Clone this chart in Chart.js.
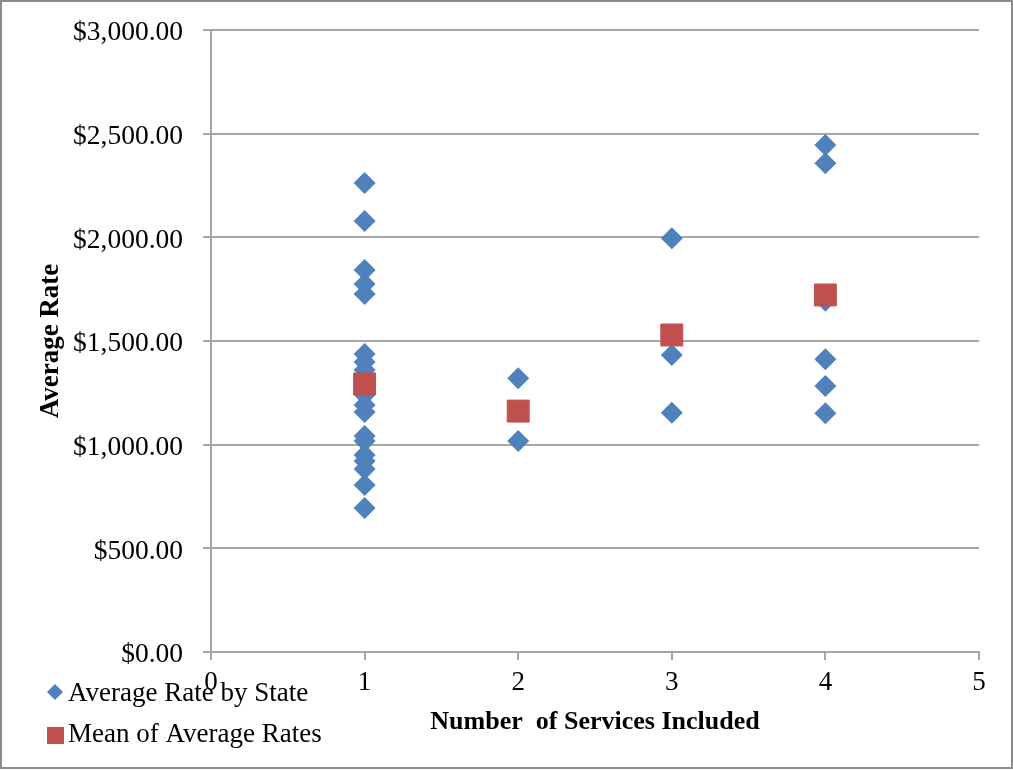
<!DOCTYPE html>
<html>
<head>
<meta charset="utf-8">
<title>Average Rate by Number of Services</title>
<script src="https://cdn.jsdelivr.net/npm/chart.js@4"></script>
<style>
  html, body { margin: 0; padding: 0; background: #fff; }
  #wrap { width: 1013px; height: 770px; position: relative; }
</style>
</head>
<body>
<div id="wrap"><canvas id="rateChart"></canvas></div>
<script>
// rates per state, grouped by how many services the plan includes
const oneServiceRates = [2262, 2079, 1842, 1775, 1727, 1437, 1399, 1360, 1240, 1191, 1158, 1042, 1018, 950, 921, 883, 805, 695];
const twoServiceRates = [1320, 1018];
const threeServiceRates = [1995, 1432, 1154];
const fourServiceRates = [2445, 2357, 1694, 1412, 1283, 1151];

// mean of the state rates for 1..4 services
const meanServices = [1, 2, 3, 4];
const meanRates = [1293, 1162, 1529, 1722];

const xTicks = [0, 1, 2, 3, 4, 5];
const yTicks = [0, 500, 1000, 1500, 2000, 2500, 3000];

const seriesNames = ['Average Rate by State', 'Mean of Average Rates'];

const BLUE = '#4f81bd';
const RED = '#c0504d';
const GRID = '#a6a6a6';
const FONT = "'Liberation Serif', 'Times New Roman', serif";

function toPoints(services, rates) {
    return rates.map(r => ({ x: services, y: r }));
}

const statePoints = [].concat(
    toPoints(1, oneServiceRates),
    toPoints(2, twoServiceRates),
    toPoints(3, threeServiceRates),
    toPoints(4, fourServiceRates)
);
const meanPoints = meanServices.map((s, i) => ({ x: s, y: meanRates[i] }));

function money(v) {
    return '$' + v.toLocaleString('en-US', { minimumFractionDigits: 2, maximumFractionDigits: 2 });
}

// white background and grey frame round the whole chart
const framePlugin = {
    id: 'frame',
    beforeDraw(chart) {
        const ctx = chart.ctx;
        ctx.save();
        ctx.fillStyle = '#fff';
        ctx.fillRect(0, 0, chart.width, chart.height);
        ctx.strokeStyle = '#8c8c8c';
        ctx.lineWidth = 2;
        ctx.strokeRect(1, 1, chart.width - 2, chart.height - 3);
        ctx.restore();
    }
};

// legend sits in the bottom-left corner, over the axis labels
const cornerLegend = {
    id: 'cornerLegend',
    afterDraw(chart) {
        const ctx = chart.ctx;
        ctx.save();
        ctx.font = '27px ' + FONT;
        ctx.textBaseline = 'alphabetic';
        ctx.textAlign = 'left';

        // diamond
        ctx.fillStyle = BLUE;
        ctx.beginPath();
        ctx.moveTo(55, 684);
        ctx.lineTo(63, 692);
        ctx.lineTo(55, 700);
        ctx.lineTo(47, 692);
        ctx.closePath();
        ctx.fill();
        ctx.fillStyle = '#000';
        ctx.fillText(seriesNames[0], 68, 701);

        // square
        ctx.fillStyle = RED;
        ctx.fillRect(47, 727, 17, 17);
        ctx.fillStyle = '#000';
        ctx.fillText(seriesNames[1], 68, 742);
        ctx.restore();
    }
};

new Chart(document.getElementById('rateChart'), {
    type: 'scatter',
    data: {
        datasets: [
            {
                label: seriesNames[1],
                data: meanPoints,
                pointStyle: 'rect',
                pointRadius: 15.5,
                pointHoverRadius: 15.5,
                backgroundColor: RED,
                borderColor: RED,
                borderWidth: 1
            },
            {
                label: seriesNames[0],
                data: statePoints,
                pointStyle: 'rectRot',
                pointRadius: 11,
                pointHoverRadius: 11,
                backgroundColor: BLUE,
                borderColor: BLUE,
                borderWidth: 0
            }
        ]
    },
    options: {
        responsive: true,
        maintainAspectRatio: false,
        animation: false,
        layout: { padding: { top: 30, right: 34, left: 0, bottom: 0 } },
        plugins: {
            legend: { display: false },
            tooltip: { enabled: false }
        },
        scales: {
            x: {
                type: 'linear',
                min: 0,
                max: 5,
                afterFit(scale) {
                    scale.height = 118;
                    scale.paddingLeft = 0;
                    scale.paddingRight = 0;
                },
                afterBuildTicks(scale) { scale.ticks = xTicks.map(v => ({ value: v })); },
                ticks: {
                    color: '#000',
                    padding: 7,
                    font: { family: FONT, size: 27 }
                },
                grid: {
                    drawOnChartArea: false,
                    tickColor: GRID,
                    tickLength: 8,
                    lineWidth: 2
                },
                border: { color: GRID, width: 2 },
                title: {
                    display: true,
                    text: 'Number  of Services Included',
                    color: '#000',
                    font: { family: FONT, size: 26, weight: 'bold' },
                    padding: { top: 0, bottom: 32 }
                }
            },
            y: {
                min: 0,
                max: 3000,
                afterFit(scale) {
                    scale.width = 211;
                    scale.paddingTop = 0;
                    scale.paddingBottom = 0;
                },
                afterBuildTicks(scale) { scale.ticks = yTicks.map(v => ({ value: v })); },
                ticks: {
                    color: '#000',
                    padding: 20,
                    labelOffset: 3,
                    font: { family: FONT, size: 27.5 },
                    callback: v => money(v)
                },
                grid: {
                    color: GRID,
                    tickColor: GRID,
                    tickLength: 8,
                    lineWidth: 2
                },
                border: { color: GRID, width: 2 },
                title: {
                    display: true,
                    text: 'Average Rate',
                    color: '#000',
                    font: { family: FONT, size: 27, weight: 'bold' },
                    padding: { top: 35, bottom: 0 }
                }
            }
        }
    },
    plugins: [framePlugin, cornerLegend]
});
</script>
</body>
</html>
